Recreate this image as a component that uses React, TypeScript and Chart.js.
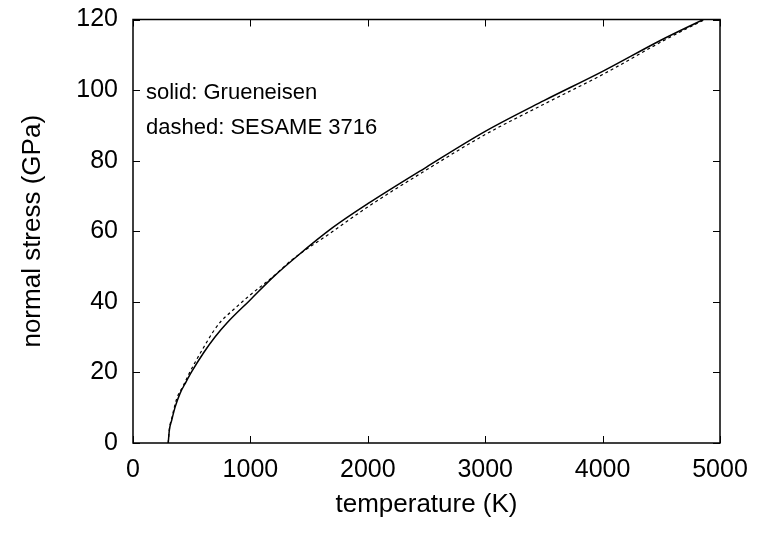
import React, { useEffect, useRef } from "react";
import { Chart, registerables } from "chart.js";
Chart.register(...registerables);

const solidT = [300, 310, 330, 360, 400, 450, 500, 600, 700, 800, 1000, 1200, 1400, 1700, 2000, 2500, 3000, 3500, 4000, 4500, 4858];
const solidP = [0, 3.7, 6.5, 10.3, 14, 17.2, 20.2, 25.5, 30.1, 34, 40.6, 47.2, 53, 61, 67.8, 78.2, 88.3, 97, 105.3, 114.2, 120];

const dashedT = [300, 310, 330, 372, 428, 480, 528, 600, 684, 750, 826, 900, 1000, 1110, 1195, 1350, 1700, 2000, 2500, 3000, 3500, 4000, 4546, 4870];
const dashedP = [0, 4, 7, 12.5, 16.2, 19.8, 22.8, 27, 31.6, 34.5, 36.9, 39.1, 42, 44.9, 47.2, 51.8, 59.9, 66.9, 77.4, 87.4, 96, 104.4, 114.5, 120];

const xTicks = [0, 1000, 2000, 3000, 4000, 5000];
const yTicks = [0, 20, 40, 60, 80, 100, 120];
const annotations = ["solid: Grueneisen", "dashed: SESAME 3716"];
const xTitle = "temperature (K)";
const yTitle = "normal stress (GPa)";

const FONT = "'Liberation Sans', Arial, Helvetica, sans-serif";

const framePlugin = {
  id: "frame",
  afterDraw(chart: any) {
    const { ctx, chartArea: a, scales } = chart;
    const xs = scales.x;
    const ys = scales.y;
    ctx.save();
    ctx.strokeStyle = "#000";
    ctx.lineWidth = 1;
    const L = 7;
    ctx.beginPath();
    xTicks.forEach((v) => {
      const px = Math.round(xs.getPixelForValue(v)) + 0.5;
      ctx.moveTo(px, a.bottom);
      ctx.lineTo(px, a.bottom - L);
      ctx.moveTo(px, a.top);
      ctx.lineTo(px, a.top + L);
    });
    yTicks.forEach((v) => {
      const py = Math.round(ys.getPixelForValue(v)) + 0.5;
      ctx.moveTo(a.left, py);
      ctx.lineTo(a.left + L, py);
      ctx.moveTo(a.right, py);
      ctx.lineTo(a.right - L, py);
    });
    ctx.stroke();
    ctx.lineWidth = 1.5;
    ctx.strokeRect(a.left, a.top, a.right - a.left, a.bottom - a.top);
    ctx.fillStyle = "#000";
    ctx.font = `22px ${FONT}`;
    ctx.textBaseline = "middle";
    ctx.textAlign = "left";
    annotations.forEach((t, i) => {
      ctx.fillText(t, a.left + 13, a.top + 73 + i * 35);
    });
    ctx.restore();
  },
};

export default function App() {
  const ref = useRef<HTMLCanvasElement>(null);
  useEffect(() => {
    if (!ref.current) return;
    const chart = new Chart(ref.current, {
      type: "scatter",
      data: {
        datasets: [
          {
            label: "Grueneisen",
            data: solidT.map((t, i) => ({ x: t, y: solidP[i] })),
            showLine: true,
            borderColor: "#000",
            borderWidth: 1.5,
            pointRadius: 0,
            cubicInterpolationMode: "monotone",
          },
          {
            label: "SESAME 3716",
            data: dashedT.map((t, i) => ({ x: t, y: dashedP[i] })),
            showLine: true,
            borderColor: "#000",
            borderWidth: 1.2,
            borderDash: [3, 3],
            pointRadius: 0,
            cubicInterpolationMode: "monotone",
          },
        ],
      },
      options: {
        animation: false,
        responsive: true,
        maintainAspectRatio: false,
        layout: { padding: { left: 0, right: 37, top: 5, bottom: 0 } },
        plugins: { legend: { display: false }, tooltip: { enabled: false } },
        scales: {
          x: {
            type: "linear",
            min: 0,
            max: 5000,
            afterFit: (s: any) => {
              s.height = 91;
            },
            afterBuildTicks: (s: any) => {
              s.ticks = xTicks.map((v) => ({ value: v }));
            },
            grid: { display: false },
            border: { display: false },
            ticks: {
              color: "#000",
              font: { family: FONT, size: 25 },
              padding: 4,
              maxRotation: 0,
              callback: (v: any) => String(v),
            },
            title: { display: true, text: xTitle, color: "#000", font: { family: FONT, size: 26 }, padding: { top: 4, bottom: 14 } },
          },
          y: {
            type: "linear",
            min: 0,
            max: 120,
            afterFit: (s: any) => {
              s.width = 133;
            },
            afterBuildTicks: (s: any) => {
              s.ticks = yTicks.map((v) => ({ value: v }));
            },
            grid: { display: false },
            border: { display: false },
            ticks: {
              color: "#000",
              font: { family: FONT, size: 25, lineHeight: 1 },
              padding: 7,
              callback: (v: any) => String(v),
            },
            title: { display: true, text: yTitle, color: "#000", font: { family: FONT, size: 26 }, padding: { top: 17, bottom: 4 } },
          },
        },
      },
      plugins: [framePlugin],
    } as any);
    return () => chart.destroy();
  }, []);
  return (
    <div style={{ position: "fixed", left: 0, top: 0, width: 757, height: 534, background: "#fff" }}>
      <canvas ref={ref} />
    </div>
  );
}
